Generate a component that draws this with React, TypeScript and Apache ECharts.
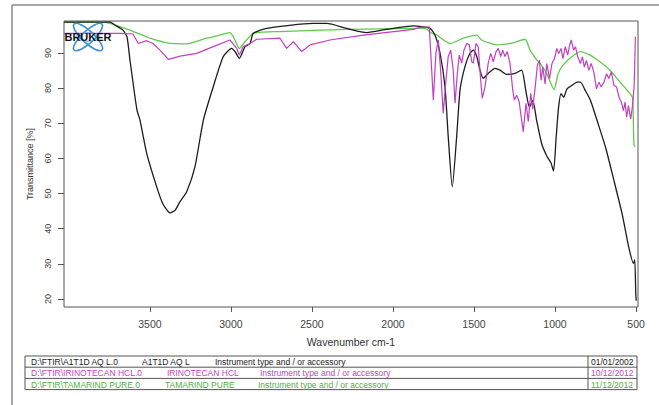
import React, { useEffect, useRef } from "react";
import * as echarts from "echarts";

const xTicks = [3500, 3000, 2500, 2000, 1500, 1000, 500];
const yTicks = [20, 30, 40, 50, 60, 70, 80, 90];

const blackWave = [4030,3746,3715,3666,3641,3623,3580,3561,3520,3458,3419,3376,3345,3314,3273,3222,3170,3109,3047,2995,2972,2948,2913,2882,2862,2779,2494,2409,2286,2162,2039,1874,1772,1741,1710,1679,1659,1634,1607,1586,1556,1525,1504,1483,1463,1443,1412,1370,1340,1298,1247,1206,1179,1158,1137,1113,1082,1051,1026,1009,993,978,963,947,926,895,864,843,813,781,740,688,636,585,544,516,508,502,499];
const blackT = [98.8,98.8,97.9,96.5,94.5,88,73.8,70.9,61.5,51.9,47,44.5,45.2,47.7,50.5,57.6,70.9,80.4,89,91.3,90.2,88.5,91.8,92.7,95.6,97,98.4,98.4,97,95.8,96.7,97.7,97,95.1,90,80.4,66.2,51.9,66.2,79.5,86.1,89.9,90.8,89,85.1,82.8,84.2,85.6,85.1,83.9,84.2,85.1,78.9,74.6,76.5,70.7,64.1,60.7,58.8,56.4,66,74.6,78.4,77.4,79.8,80.8,81.7,81.7,79.3,76.5,70.7,63.1,53.6,44,34.5,30.1,31.1,22,19.5];

const magWave = [4030,3728,3684,3604,3572,3520,3481,3438,3386,3314,3211,3109,3006,2964,2948,2924,2882,2841,2697,2656,2615,2563,2512,2389,2183,1874,1833,1776,1761,1751,1735,1720,1706,1690,1673,1659,1644,1628,1617,1603,1591,1576,1562,1545,1529,1514,1504,1488,1474,1459,1449,1432,1412,1397,1381,1364,1350,1335,1323,1309,1295,1278,1261,1251,1237,1221,1206,1196,1179,1165,1150,1138,1123,1109,1096,1086,1076,1061,1051,1034,1019,1003,989,978,963,951,937,922,910,900,885,874,860,843,831,819,806,792,777,761,744,729,715,698,682,668,653,636,620,605,591,578,568,558,547,533,523,512,504,500];
const magT = [95.6,95.6,95.6,95.4,92.7,93.5,92.7,90.8,88.2,89.1,89.9,91.8,93.7,91.3,89.4,91.8,92.7,93.9,94.2,91.3,93.2,90.4,92.3,93.7,95.1,96.7,97.3,97.4,85.1,76.6,90,93.7,85.1,72.8,82.3,89,90.8,85.1,75.7,84.2,89.4,87.1,90.8,92.7,92.3,87.5,87.1,92.7,91.8,82.3,77.1,80.4,87.1,89.9,87.5,90.4,91.3,89,90.8,89,90.4,87.1,79.5,76.6,78,76.1,70.9,67.6,75.7,70.5,78.5,74,80,86.5,87.9,82.2,86,81.2,87,82.7,87,88.4,91.3,89.8,91.3,88.4,91.8,89.4,92.2,93.7,90.8,91.8,88.9,87,88.9,86,87.9,85.1,87,84.6,79.8,81.7,80.3,81.7,84.1,82.7,84.6,80.8,80.3,77.4,76,73.6,76,71.7,75,71.2,74.6,80.3,94.6,94.6];

const greenWave = [4030,3808,3746,3623,3602,3520,3499,3396,3273,3252,3149,3109,3006,2975,2948,2913,2862,2697,2286,1874,1802,1761,1730,1648,1566,1483,1453,1360,1257,1185,1154,1113,1093,1052,1006,980,949,908,846,784,723,661,600,538,521,513,504];
const greenT = [98.8,98.9,98.4,96.5,96.1,94.6,94.2,92.9,92.6,92.7,94.2,94.6,95.8,93.7,91.3,93.2,95.6,96.1,96.7,97,97,95.6,95.1,92.7,94.2,95.1,93.7,92.3,92.9,93.9,90.8,88,87.1,84.2,79.6,84.2,86.6,88.5,90.4,89.4,87.5,85.1,81.8,78.5,77.1,63.8,63.3];

const tableRows = [
  { file: "D:\\FTIR\\A1T1D AQ L.0", name: "A1T1D AQ L", inst: "Instrument type and / or accessory", date: "01/01/2002", color: "#222222", nameX: 142, instX: 215 },
  { file: "D:\\FTIR\\IRINOTECAN HCL.0", name: "IRINOTECAN HCL", inst: "Instrument type and / or accessory", date: "10/12/2012", color: "#c23fc2", nameX: 167, instX: 260 },
  { file: "D:\\FTIR\\TAMARIND PURE.0", name: "TAMARIND PURE", inst: "Instrument type and / or accessory", date: "11/12/2012", color: "#4fb33a", nameX: 165, instX: 258 },
];

const COLORS = { black: "#1c1c1c", magenta: "#c23fc2", green: "#62c94c" };
const FONT = '"Liberation Sans", Arial, sans-serif';

function pairs(w: number[], t: number[]) {
  return w.map((v, i) => [v, t[i]]);
}

export default function App() {
  const ref = useRef<HTMLDivElement>(null);
  useEffect(() => {
    if (!ref.current) return;
    const chart = echarts.init(ref.current, undefined, { renderer: "svg" });

    const tableTop = 356;
    const rowH = 11.2;
    const tblLeft = 25;
    const tblRight = 637;
    const dateSep = 588;

    const graphics: any[] = [];
    graphics.push({ type: "line", shape: { x1: 12, y1: 5, x2: 659, y2: 5 }, style: { stroke: "#8a8a8a", lineWidth: 1.5 } });
    graphics.push({ type: "line", shape: { x1: 12, y1: 5, x2: 12, y2: 405 }, style: { stroke: "#8a8a8a", lineWidth: 1.5 } });
    graphics.push({ type: "rect", shape: { x: tblLeft, y: tableTop, width: tblRight - tblLeft, height: rowH * 3 }, style: { fill: "none", stroke: "#555", lineWidth: 1 } });
    graphics.push({ type: "line", shape: { x1: tblLeft, y1: tableTop + rowH, x2: tblRight, y2: tableTop + rowH }, style: { stroke: "#555", lineWidth: 1 } });
    graphics.push({ type: "line", shape: { x1: tblLeft, y1: tableTop + rowH * 2, x2: tblRight, y2: tableTop + rowH * 2 }, style: { stroke: "#555", lineWidth: 1 } });
    graphics.push({ type: "line", shape: { x1: dateSep, y1: tableTop, x2: dateSep, y2: tableTop + rowH * 3 }, style: { stroke: "#555", lineWidth: 1 } });
    tableRows.forEach((r, i) => {
      const y = tableTop + rowH * i + rowH / 2 + 0.5;
      const base = { fill: r.color, fontSize: 8.5, fontFamily: FONT, verticalAlign: "middle", align: "left" };
      graphics.push({ type: "text", style: { ...base, text: r.file, x: 31, y } });
      graphics.push({ type: "text", style: { ...base, text: r.name, x: r.nameX, y } });
      graphics.push({ type: "text", style: { ...base, text: r.inst, x: r.instX, y } });
      graphics.push({ type: "text", style: { ...base, text: r.date, x: dateSep + 3, y } });
    });
    const cx = 88, cy = 37;
    [-0.75, 0.75].forEach((rot) => {
      graphics.push({ type: "ellipse", x: cx, y: cy, rotation: rot, shape: { cx: 0, cy: 0, rx: 19, ry: 6 }, style: { fill: "none", stroke: "#3b8fd4", lineWidth: 1.6 }, z: 20 });
    });
    graphics.push({ type: "ellipse", x: cx, y: cy, rotation: 0, shape: { cx: 0, cy: 0, rx: 12, ry: 4 }, style: { fill: "none", stroke: "#5aa6e0", lineWidth: 1 }, z: 20 });
    graphics.push({ type: "text", z: 21, style: { text: "BRUKER", x: 88, y: 37, fill: "#111", fontSize: 11, fontWeight: "bold", fontFamily: FONT, align: "center", verticalAlign: "middle" } });

    chart.setOption({
      animation: false,
      backgroundColor: "#ffffff",
      grid: { left: 64, top: 21, right: 21, bottom: 98, show: true, borderColor: "#555", borderWidth: 1, containLabel: false, outerBoundsMode: "none" },
      xAxis: {
        type: "value",
        inverse: true,
        min: 488,
        max: 4030,
        name: "Wavenumber cm-1",
        nameLocation: "middle",
        nameGap: 29,
        nameTextStyle: { fontSize: 10.5, color: "#333", fontFamily: FONT },
        axisLine: { show: false },
        splitLine: { show: false },
        axisTick: { show: true, length: 5, inside: false, lineStyle: { color: "#555" }, customValues: xTicks },
        axisLabel: { fontSize: 10.5, color: "#444", fontFamily: FONT, margin: 11, customValues: xTicks, formatter: (v: number) => String(v) },
      },
      yAxis: {
        type: "value",
        min: 17.7,
        max: 99.1,
        name: "Transmittance [%]",
        nameLocation: "middle",
        nameGap: 30,
        nameRotate: 90,
        nameTextStyle: { fontSize: 9, color: "#333", fontFamily: FONT },
        axisLine: { show: false },
        splitLine: { show: false },
        axisTick: { show: true, length: 6, inside: false, lineStyle: { color: "#555" }, customValues: yTicks },
        axisLabel: { fontSize: 9, color: "#444", fontFamily: FONT, rotate: 90, margin: 12, customValues: yTicks, formatter: (v: number) => String(v) },
      },
      series: [
        { type: "line", name: "A1T1D AQ L", data: pairs(blackWave, blackT), showSymbol: false, smooth: 0.2, lineStyle: { color: COLORS.black, width: 1.3 }, itemStyle: { color: COLORS.black }, z: 3 },
        { type: "line", name: "IRINOTECAN HCL", data: pairs(magWave, magT), showSymbol: false, lineStyle: { color: COLORS.magenta, width: 1.2 }, itemStyle: { color: COLORS.magenta }, z: 4 },
        { type: "line", name: "TAMARIND PURE", data: pairs(greenWave, greenT), showSymbol: false, smooth: 0.2, lineStyle: { color: COLORS.green, width: 1.3 }, itemStyle: { color: COLORS.green }, z: 2 },
      ],
      graphic: graphics,
    });
    return () => chart.dispose();
  }, []);
  return <div ref={ref} style={{ position: "fixed", left: 0, top: 0, width: 659, height: 405, background: "#fff" }} />;
}
